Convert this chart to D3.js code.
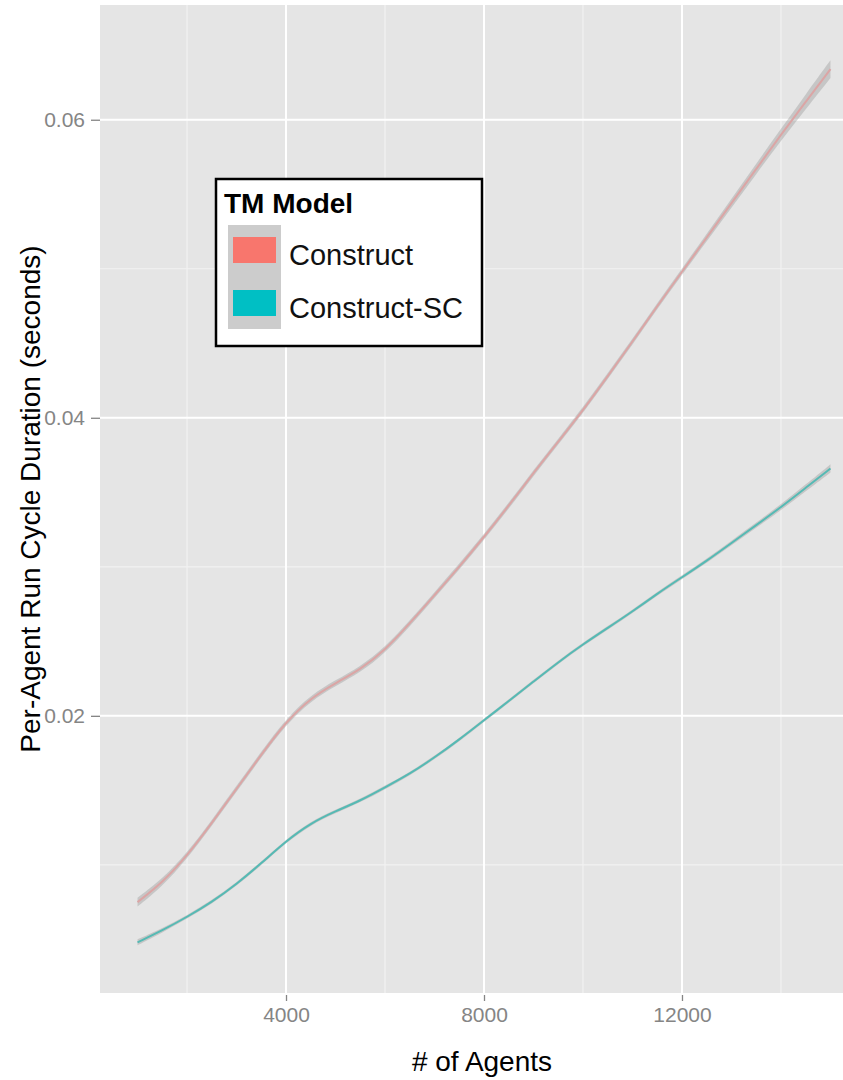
<!DOCTYPE html>
<html>
<head>
<meta charset="utf-8">
<script src="https://cdn.jsdelivr.net/npm/d3@7"></script>
<style>
  body { margin:0; background:#fff; }
  svg { display:block; font-family:"Liberation Sans", Arial, sans-serif; }
</style>
</head>
<body>
<div id="chart"></div>
<script>
// agents (x) and per-agent run cycle durations
const agents = [1000,1500,2000,2500,3000,3500,4000,4500,5000,5500,6000,6500,7000,7500,
                8000,8500,9000,9500,10000,10500,11000,11500,12000,12500,13000,13500,14000,14500,15000];
const construct = [0.0075,0.0088,0.0106,0.0128,0.0151,0.0174,0.0196,0.0212,0.0222,0.0231,0.0244,0.0262,0.0281,0.0300,
                   0.0320,0.0341,0.0363,0.0384,0.0405,0.0428,0.0451,0.0475,0.0498,0.0521,0.0544,0.0567,0.0590,0.0612,0.0634];
const constructSC = [0.0048,0.0056,0.0065,0.0075,0.0087,0.0101,0.0116,0.0128,0.0136,0.0143,0.0152,0.0161,0.0172,0.0184,
                     0.0197,0.0210,0.0223,0.0236,0.0248,0.0259,0.0270,0.0282,0.0293,0.0304,0.0316,0.0328,0.0340,0.0353,0.0366];
// half width of the confidence band
const constructSE = [0.0003,0.00025,0.0002,0.0002,0.0002,0.0002,0.0002,0.0002,0.0002,0.0002,0.0002,0.0002,0.0002,0.0002,
                     0.0002,0.0002,0.0002,0.0002,0.0002,0.0002,0.0002,0.0002,0.00022,0.00025,0.0003,0.00035,0.0004,0.0005,0.0006];
const constructSCSE = [0.0002,0.00015,0.00012,0.00012,0.00012,0.00012,0.00012,0.00012,0.00012,0.00012,0.00012,0.00012,0.00012,0.00012,
                       0.00012,0.00012,0.00012,0.00012,0.00012,0.00012,0.00012,0.00012,0.00013,0.00014,0.00015,0.00017,0.0002,0.00023,0.00028];

const seriesNames = ["Construct","Construct-SC"];
const seriesColors = ["#dba5a5","#55bab4"];
const swatchColors = ["#f8766d","#00bfc4"];
const xTicks = [4000,8000,12000];
const xMinor = [2000,6000,10000,14000];
const yTicks = [0.02,0.04,0.06];
const yMinor = [0.01,0.03,0.05];

const W = 843, H = 1080;
const panel = {left:100, right:843, top:5, bottom:993};

const svg = d3.select("#chart").append("svg").attr("width",W).attr("height",H);

const x = d3.scaleLinear().domain([242,15253]).range([panel.left,panel.right]);
const y = d3.scaleLinear().domain([0.0014,0.0677]).range([panel.bottom,panel.top]);

// panel background
svg.append("rect")
    .attr("x",panel.left).attr("y",panel.top)
    .attr("width",panel.right-panel.left).attr("height",panel.bottom-panel.top)
    .attr("fill","#e5e5e5");

// grid
const grid = svg.append("g");
yMinor.forEach(v=>grid.append("line")
    .attr("x1",panel.left).attr("x2",panel.right).attr("y1",y(v)).attr("y2",y(v))
    .attr("stroke","#f2f2f2").attr("stroke-width",1.2));
xMinor.forEach(v=>grid.append("line")
    .attr("y1",panel.top).attr("y2",panel.bottom).attr("x1",x(v)).attr("x2",x(v))
    .attr("stroke","#f2f2f2").attr("stroke-width",1.2));
yTicks.forEach(v=>grid.append("line")
    .attr("x1",panel.left).attr("x2",panel.right).attr("y1",y(v)).attr("y2",y(v))
    .attr("stroke","#ffffff").attr("stroke-width",2));
xTicks.forEach(v=>grid.append("line")
    .attr("y1",panel.top).attr("y2",panel.bottom).attr("x1",x(v)).attr("x2",x(v))
    .attr("stroke","#ffffff").attr("stroke-width",2));

// axes
const xAxis = svg.append("g")
    .attr("transform",`translate(0,${panel.bottom})`)
    .call(d3.axisBottom(x).tickValues(xTicks).tickFormat(d3.format("d")).tickSize(8).tickPadding(6));
const yAxis = svg.append("g")
    .attr("transform",`translate(${panel.left},0)`)
    .call(d3.axisLeft(y).tickValues(yTicks).tickFormat(d3.format(".2f")).tickSize(9).tickPadding(6));
[xAxis,yAxis].forEach(a=>{
    a.select(".domain").remove();
    a.selectAll(".tick line").attr("stroke","#858585").attr("stroke-width",1.3);
    a.selectAll(".tick text").attr("fill","#858585")
        .style("font-size","21px").style("font-family","'Liberation Sans', Arial, sans-serif");
});
xAxis.selectAll(".tick line").attr("y1",2);

// series
const series = [
    {name:seriesNames[0], vals:construct, se:constructSE, color:seriesColors[0]},
    {name:seriesNames[1], vals:constructSC, se:constructSCSE, color:seriesColors[1]}
].map(s=>({...s, pts:agents.map((a,i)=>({x:a, y:s.vals[i], se:s.se[i]}))}));

const band = d3.area()
    .x(d=>x(d.x)).y0(d=>y(d.y-d.se)).y1(d=>y(d.y+d.se))
    .curve(d3.curveBasis);
const line = d3.line()
    .x(d=>x(d.x)).y(d=>y(d.y))
    .curve(d3.curveBasis);

series.forEach(s=>{
    svg.append("path").datum(s.pts)
        .attr("d",band)
        .attr("fill","#999999").attr("fill-opacity",0.4);
    svg.append("path").datum(s.pts)
        .attr("d",line)
        .attr("fill","none")
        .attr("stroke",s.color)
        .attr("stroke-width",2);
});

// axis titles
svg.append("text")
    .attr("x",482).attr("y",1071)
    .attr("text-anchor","middle")
    .style("font-size","28px").attr("fill","#000")
    .text("# of Agents");
svg.append("text")
    .attr("transform",`translate(40,${(panel.top+panel.bottom)/2}) rotate(-90)`)
    .attr("text-anchor","middle")
    .style("font-size","28px").attr("fill","#000")
    .text("Per-Agent Run Cycle Duration (seconds)");

// legend
const lg = svg.append("g");
lg.append("rect")
    .attr("x",216).attr("y",179).attr("width",266).attr("height",167)
    .attr("fill","#fff").attr("stroke","#000").attr("stroke-width",2.5);
lg.append("text")
    .attr("x",224).attr("y",213)
    .style("font-size","28px").style("font-weight","bold")
    .text("TM Model");
lg.append("rect")
    .attr("x",228).attr("y",225).attr("width",53).attr("height",104)
    .attr("fill","#cccccc");
seriesNames.forEach((n,i)=>{
    const yy = 237 + i*53;
    lg.append("rect")
        .attr("x",233).attr("y",yy).attr("width",43).attr("height",26)
        .attr("fill",swatchColors[i]);
    lg.append("text")
        .attr("x",289).attr("y",yy+28)
        .style("font-size","29px").attr("fill","#111")
        .text(n);
});
</script>
</body>
</html>
